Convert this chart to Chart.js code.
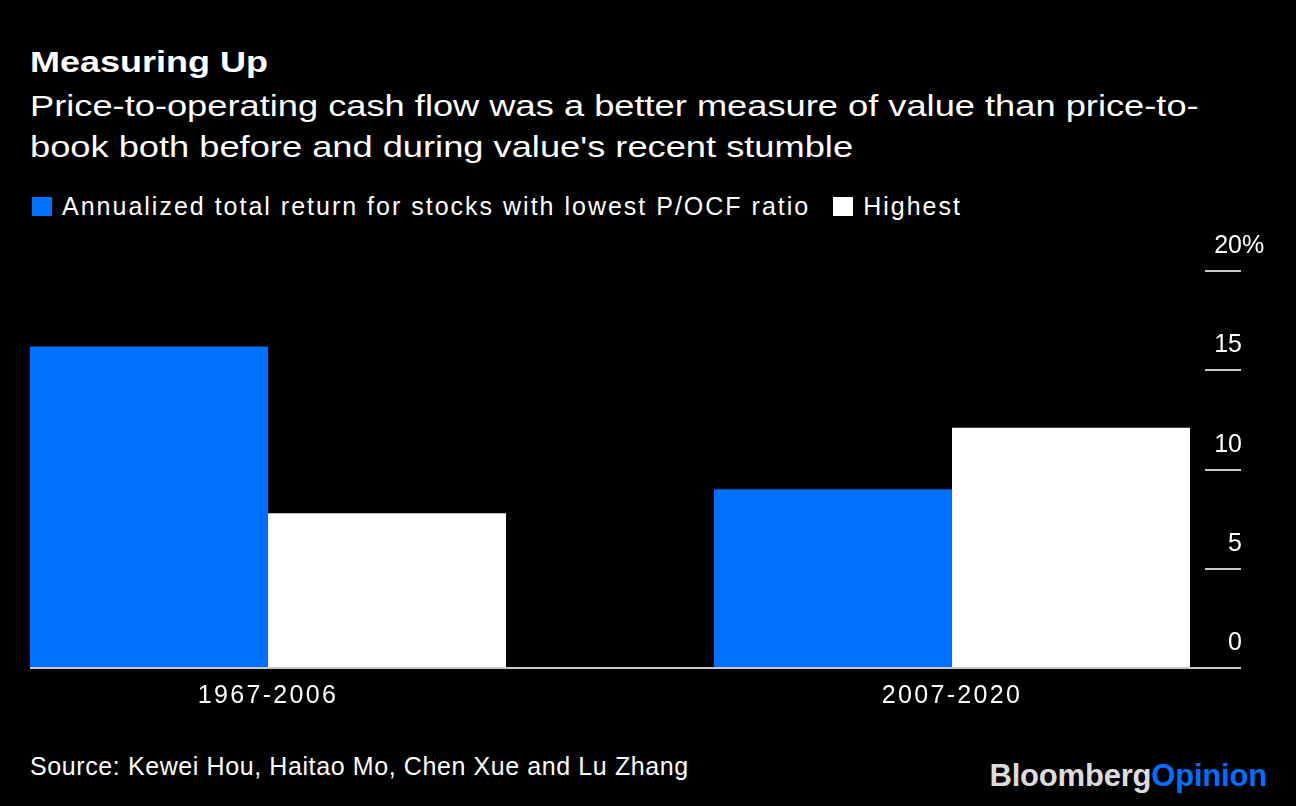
<!DOCTYPE html>
<html lang="en">
<head>
  <meta charset="UTF-8">
  <title>Measuring Up</title>
  <style>
    body { margin: 0; background: #000; width: 1296px; height: 806px; overflow: hidden; position: relative;
           font-family: "Liberation Sans", Arial, sans-serif; color: #fff; }
    .t { position: absolute; left: 30px; white-space: nowrap; line-height: 1; transform-origin: left top; }
    #title { top: 47px; font-size: 30px; font-weight: bold; transform: scaleX(1.2); }
    #sub { top: 86px; font-size: 29px; line-height: 41px; transform: scaleX(1.25); }
    #legend { top: 194px; font-size: 25px; display: flex; align-items: center; left: 32px; letter-spacing: 2px; }
    #legend .box { width: 20px; height: 19px; margin-right: 10px; }
    #legend .item { display: flex; align-items: center; margin-right: 23px; }
    #source { top: 754px; font-size: 25px; letter-spacing: 0.6px; }
    #logo { position: absolute; right: 29px; top: 760px; font-size: 31px; font-weight: bold; line-height: 1; color: #dcdcdc; letter-spacing: -0.2px; }
    #logo span { color: #0070ff; }
    #wrap { position: absolute; left: 0; top: 210px; }
  </style>
  <script src="https://cdn.jsdelivr.net/npm/chart.js"></script>
</head>
<body>
  <div class="t" id="title">Measuring Up</div>
  <div class="t" id="sub">Price-to-operating cash flow was a better measure of value than price-to-<br>book both before and during value's recent stumble</div>
  <div class="t" id="legend"></div>
  <div class="t" id="source">Source: Kewei Hou, Haitao Mo, Chen Xue and Lu Zhang</div>
  <div id="logo">Bloomberg<span>Opinion</span></div>

  <div id="wrap"><canvas id="chart" width="1296" height="530"></canvas></div>

  <script>
    const categories = ["1967-2006", "2007-2020"];
    const lowestPOCF = [16.2, 9.0];
    const highestPOCF = [7.8, 12.1];
    const seriesNames = ["Annualized total return for stocks with lowest P/OCF ratio", "Highest"];
    const seriesColors = ["#0070ff", "#ffffff"];
    const yTicks = [0, 5, 10, 15, 20];

    // legend
    const legend = document.getElementById("legend");
    seriesNames.forEach((name, i) => {
      const item = document.createElement("div");
      item.className = "item";
      item.innerHTML = `<div class="box" style="background:${seriesColors[i]}"></div><span>${name}</span>`;
      legend.appendChild(item);
    });

    // wider spacing for the category labels
    const spacing = {
      id: "spacing",
      beforeLayout(chart) { chart.ctx.letterSpacing = "2.3px"; },
      beforeDraw(chart) { chart.ctx.letterSpacing = "2.3px"; }
    };

    // baseline, right-hand ticks and labels
    const rightAxis = {
      id: "rightAxis",
      afterDatasetsDraw(chart) {
        const ctx = chart.ctx;
        const y = chart.scales.y;
        ctx.save();
        ctx.letterSpacing = "0px";
        ctx.strokeStyle = "#c8c8c8";
        ctx.lineWidth = 2;
        ctx.fillStyle = "#ffffff";
        ctx.font = '25px "Liberation Sans", Arial, sans-serif';
        ctx.textBaseline = "alphabetic";
        yTicks.forEach(v => {
          const py = Math.round(y.getPixelForValue(v));
          ctx.beginPath();
          ctx.moveTo(v === 0 ? 30 : 1205, py);
          ctx.lineTo(1241, py);
          ctx.stroke();
          ctx.textAlign = "right";
          ctx.fillText(String(v), 1242, py - 18);
          if (v === yTicks[yTicks.length - 1]) {
            ctx.textAlign = "left";
            ctx.fillText("%", 1242, py - 18);
          }
        });
        ctx.restore();
      }
    };

    new Chart(document.getElementById("chart"), {
      type: "bar",
      data: {
        labels: categories,
        datasets: [
          { label: seriesNames[0], data: lowestPOCF, backgroundColor: seriesColors[0], clip: false },
          { label: seriesNames[1], data: highestPOCF, backgroundColor: seriesColors[1], clip: false }
        ]
      },
      options: {
        responsive: false,
        animation: false,
        devicePixelRatio: 1,
        layout: { padding: { left: 268, right: 344, top: 61, bottom: 16 } },
        datasets: { bar: { categoryPercentage: 476 / 684, barPercentage: 1 } },
        plugins: { legend: { display: false }, tooltip: { enabled: false } },
        scales: {
          x: {
            type: "category",
            offset: false,
            grid: { display: false, drawTicks: false },
            border: { display: false },
            ticks: { color: "#ffffff", font: { size: 25, family: '"Liberation Sans", Arial, sans-serif' }, padding: 13, maxRotation: 0 }
          },
          y: {
            display: false,
            min: 0,
            max: 20
          }
        }
      },
      plugins: [spacing, rightAxis]
    });
  </script>
</body>
</html>
